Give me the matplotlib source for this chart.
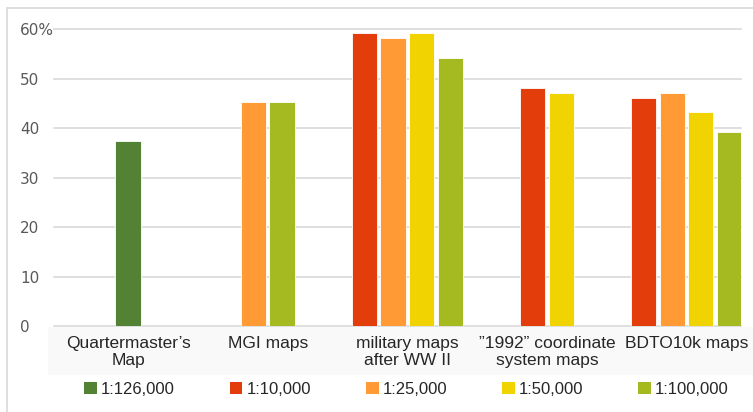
import matplotlib
matplotlib.use("Agg")
import matplotlib.pyplot as plt
from matplotlib.patches import Rectangle, Patch

# Data (percent), None = no bar for that category
categories = ["Quartermaster\u2019s\nMap", "MGI maps", "military maps\nafter WW II",
              "\u201d1992\u201d coordinate\nsystem maps", "BDTO10k maps"]
series = ["1:126,000", "1:10,000", "1:25,000", "1:50,000", "1:100,000"]
colors = ["#548235", "#E33D0B", "#FF9A35", "#F0D300", "#A5B920"]

s_126k = [37.5, None, None, None, None]
s_10k = [None, None, 59.2, 48.2, 46.2]
s_25k = [None, 45.2, 58.2, None, 47.2]
s_50k = [None, None, 59.2, 47.2, 43.2]
s_100k = [None, 45.2, 54.2, None, 39.2]
values = [s_126k, s_10k, s_25k, s_50k, s_100k]

yticks = [0, 10, 20, 30, 40, 50, 60]
ytick_labels = ["0", "10", "20", "30", "40", "50", "60%"]

fig = plt.figure(figsize=(7.53, 4.12), dpi=100)
ax = fig.add_axes([54 / 753, 1 - 326 / 412, (741 - 54) / 753, (326 - 29.3) / 412])

# outer frame and label band
fig.patches.append(Rectangle((7 / 753, -0.1), 1.1, (412 - 8) / 412 + 0.1,
                             transform=fig.transFigure, fill=False,
                             edgecolor="#d9d9d9", linewidth=1.2, zorder=-2))
fig.patches.append(Rectangle((48 / 753, 1 - 375 / 412), 1.0, 48 / 412,
                             transform=fig.transFigure, facecolor="#f9f9f9",
                             edgecolor="none", zorder=-1))

step = 0.205
width = 0.18
# present bars are packed and centred on each category
for j in range(len(categories)):
    present = [i for i in range(len(series)) if values[i][j] is not None]
    n = len(present)
    for k, i in enumerate(present):
        x = j + (k - (n - 1) / 2) * step
        ax.bar(x, values[i][j], width=width, color=colors[i],
               edgecolor="white", linewidth=0.6, zorder=3)

for y in yticks:
    ax.axhline(y, color="#d9d9d9", linewidth=1.2, zorder=1, clip_on=False)

ax.set_xlim(-0.53, 4.39)
ax.set_ylim(0, 60)
ax.set_facecolor("none")
for sp in ax.spines.values():
    sp.set_visible(False)

ax.set_yticks(yticks, ytick_labels, fontsize=11, color="#595959",
              family="DejaVu Sans")
for lab in ax.get_yticklabels():
    lab.set_horizontalalignment("left")
ax.tick_params(axis="y", length=0, pad=24.5)

ax.set_xticks(range(len(categories)), categories, fontsize=12.5,
              color="#262626", family="Liberation Sans", linespacing=1.1)
ax.tick_params(axis="x", length=0, pad=7.5)

handles = [Patch(facecolor=c, edgecolor="none") for c in colors]
fig.legend(handles, series, ncol=5, loc="center",
           bbox_to_anchor=(0.54, 1 - 389 / 412), frameon=False,
           prop={"family": "Liberation Sans", "size": 12},
           labelcolor="#262626", handlelength=0.75, handleheight=0.75,
           handletextpad=0.25, columnspacing=3.3)

fig.savefig("out.png", dpi=100)
